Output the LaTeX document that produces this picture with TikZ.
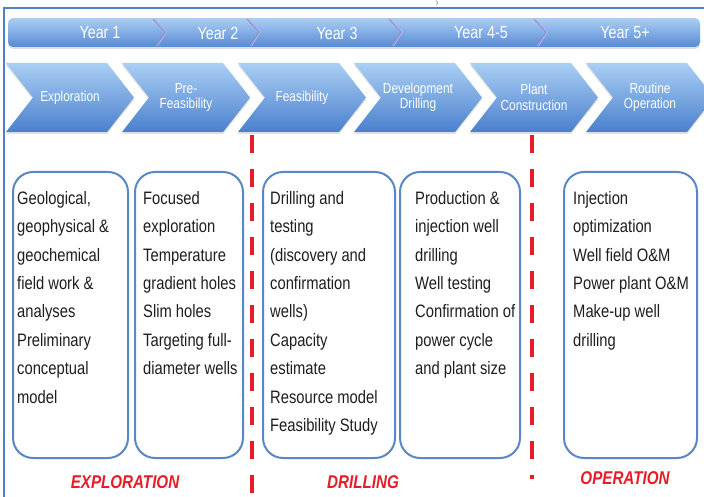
\documentclass[tikz,border=0pt]{standalone}
\usepackage{fontspec}
\newfontfamily\narrowfont[FakeStretch=0.82,
  BoldFont={Liberation Sans Bold},
  ItalicFont={Liberation Sans Italic},
  BoldItalicFont={Liberation Sans Bold Italic}]{Liberation Sans}
\usetikzlibrary{shapes.symbols,shadows}

\definecolor{chevtop}{RGB}{170,207,244}
\definecolor{chevbot}{RGB}{74,128,205}
\definecolor{bartop}{RGB}{172,206,243}
\definecolor{barbot}{RGB}{86,138,213}
\definecolor{boxblue}{RGB}{90,135,197}
\definecolor{framblue}{RGB}{82,128,200}
\definecolor{cutred}{RGB}{232,28,40}
\definecolor{itemgray}{RGB}{30,30,30}

\tikzset{
  phasearrow/.style={signal, signal to=east, signal from=west,
    signal pointer angle=104, minimum width=128pt, minimum height=69pt,
    inner sep=0pt, top color=chevtop, bottom color=chevbot, text=white,
    align=center, font=\narrowfont\fontsize{14.5}{15.5}\selectfont,
    drop shadow={opacity=0.25, shadow xshift=0pt, shadow yshift=-2pt}},
  yearbar/.style={rounded corners=5pt, minimum width=692pt, minimum height=29pt,
    inner sep=0pt, top color=bartop, bottom color=barbot,
    drop shadow={opacity=0.25, shadow xshift=0pt, shadow yshift=-2pt}},
  yearlabel/.style={text=white, inner sep=0pt, font=\narrowfont\fontsize{17.5}{18}\selectfont},
  stagebox/.style={draw=boxblue, line width=2pt, rounded corners=20pt,
    minimum height=286pt, inner sep=0pt},
  items/.style={anchor=north west, inner sep=0pt, align=left, text=itemgray,
    font=\narrowfont\fontsize{18}{28.4}\selectfont},
  stagename/.style={anchor=base, inner sep=0pt, text=cutred,
    font=\narrowfont\fontsize{18.5}{20}\selectfont\bfseries\itshape},
  cutline/.style={cutred, line width=4pt, dash pattern=on 18pt off 16pt},
  frame/.style={framblue, line width=1.5pt}
}

\begin{document}
\begin{tikzpicture}[x=1pt,y=-1pt]
\useasboundingbox (0,0) rectangle (704,497);
\fill[white] (0,0) rectangle (704,497);

% frame and title remnant
\node[anchor=south, inner sep=0pt, font=\fontsize{5}{5}\selectfont] (titlecut) at (437,5.5) {)};
\draw[frame] (4,497) -- (4,8) -- (704,8);

% years
\node[yearbar] (bar) at (354,32.5) {};
\foreach \x in {153,247,389,534}{
  \draw[blue!20!gray!70, line width=1pt] (\x,19) -- (\x+12,32) -- (\x+3,46);
  \draw[white!70!blue, line width=0.8pt] (\x+1.5,19) -- (\x+13.5,32) -- (\x+4.5,46);
}
\node[yearlabel] (y1) at (100,33) {Year 1};
\node[yearlabel] (y2) at (218,33) {Year 2};
\node[yearlabel] (y3) at (337,33) {Year 3};
\node[yearlabel] (y45) at (481,33) {Year 4-5};
\node[yearlabel] (y5) at (625,33) {Year 5+};

% phases
\node[phasearrow] (expl) at (70,97.5) {Exploration};
\node[phasearrow] (prefeas) at (186,97.5) {Pre-\\Feasibility};
\node[phasearrow] (feas) at (302,97.5) {Feasibility};
\node[phasearrow] (devdrill) at (418,97.5) {Development\\Drilling};
\node[phasearrow] (plant) at (534,97.5) {Plant\\Construction};
\node[phasearrow] (routine) at (650,97.5) {Routine\\Operation};

% boxes
\node[stagebox, minimum width=115pt] (explbox) at (70.5,315) {};
\node[stagebox, minimum width=108pt] (prefeasbox) at (189,315) {};
\node[stagebox, minimum width=132pt] (feasbox) at (329,315) {};
\node[stagebox, minimum width=120pt] (devbox) at (460,315) {};
\node[stagebox, minimum width=133pt] (operbox) at (630.5,315) {};

\node[items] (explitems) at (17,191) {Geological,\\geophysical \&\\geochemical\\field work \&\\analyses\\Preliminary\\conceptual\\model};
\node[items] (prefeasitems) at (143,191) {Focused\\exploration\\Temperature\\gradient holes\\Slim holes\\Targeting full-\\diameter wells};
\node[items] (feasitems) at (270,191) {Drilling and\\testing\\(discovery and\\confirmation\\wells)\\Capacity\\estimate\\Resource model\\Feasibility Study};
\node[items] (devitems) at (415,191) {Production \&\\injection well\\drilling\\Well testing\\Confirmation of\\power cycle\\and plant size};
\node[items] (operitems) at (573,191) {Injection\\optimization\\Well field O\&M\\Power plant O\&M\\Make-up well\\drilling};

% cuts between stages
\coordinate (cut1top) at (252,135);
\coordinate (cut1bot) at (252,497);
\coordinate (cut2top) at (532,135);
\coordinate (cut2bot) at (532,479);
\draw[cutline] (cut1top) -- (cut1bot);
\draw[cutline] (cut2top) -- (cut2bot);

\node[stagename] (explname) at (125,488) {EXPLORATION};
\node[stagename] (drillname) at (363,488) {DRILLING};
\node[stagename] (opername) at (625,484) {OPERATION};
\end{tikzpicture}
\end{document}
